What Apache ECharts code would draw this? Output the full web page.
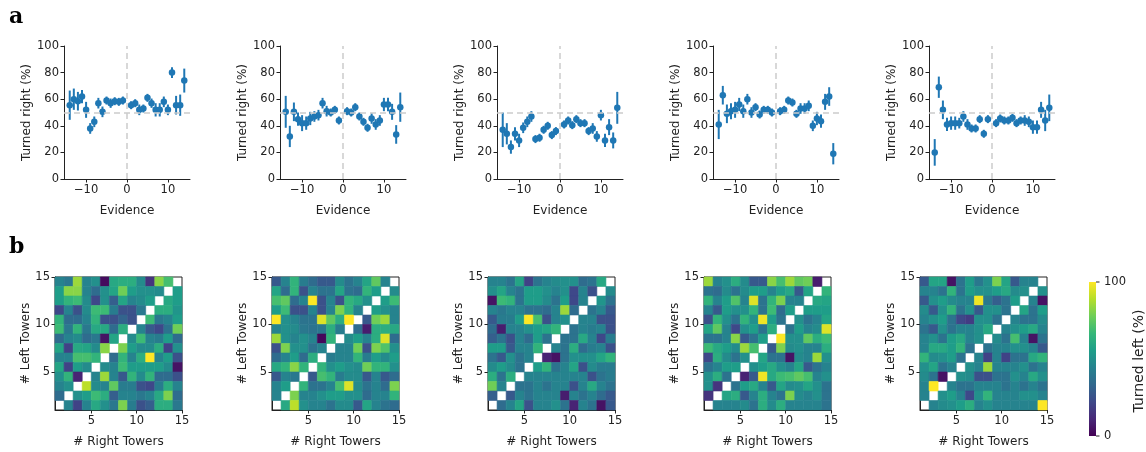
<!DOCTYPE html>
<html>
<head>
    <meta charset="utf-8">
    <title>Evidence / towers</title>
    <script src="https://cdn.jsdelivr.net/npm/echarts@6/dist/echarts.min.js"></script>
</head>
<body style="margin:0;background:#fff">
    <div id="main" style="width: 1146px;height:452px;"></div>
    <script type="text/javascript">
        // evidence values (right - left towers), 0 is not present
        var evidence = [-14,-13,-12,-11,-10,-9,-8,-7,-6,-5,-4,-3,-2,-1,1,2,3,4,5,6,7,8,9,10,11,12,13,14];

        // turned right (%) per panel, and error bar half-lengths
        var right1 = [55.5,60,58.5,62,52,38,43,57,50.5,59,57,58.5,58,59,55.5,57,52,53,61,57,52,52,58,52,80,55.5,55.5,74];
        var err1   = [11,8,7,5,6,4,4,4,4,3,3.5,3,3,3,3,3,4,3,3,3.5,5,5,4,4,4,7,8,9];
        var right2 = [50.5,32,50.5,45,42,42,45.5,47,48,57,51,50,52,44,51,50,54,47,43,38.5,45.5,41,44,56,56,50.5,33.5,54];
        var err2   = [12,8,7,5,6,5,5,4,4,4,4,3,3,3,3,3,3,3,3,3,4,4,4,5,5,6,7,11];
        var right3 = [37,34,24,34,29,38.5,43,47,30,31,37,40,33,36,41,44,40.5,45,42,42,36,38,32,48,29,39,29,53.5];
        var err3   = [13,8,5,5,5,4,4,4,3,3,3,3,3,3,3,3,3,3,3,3,3,4,4,4,5,6,6,12];
        var right4 = [41,63,49,51,52,56,51,60,50,54,48.5,52,52,50,51,52,59,57.5,49,53,53,55,40,45.5,43.5,58,62,19];
        var err4   = [11,7,7,6,6,5,5,4,4,3,3,3,3,3,3,3,3,3,3,4,4,4,4,5,5,6,7,8];
        var right5 = [20,69,52,41,42,42,42,47,41,38,38,45,34,45,42,45.5,44,44,46,42,44,44,43,39,39,52,44,53.5];
        var err5   = [10,8,7,5,5,5,4,4,4,3,3,3,3,3,3,3,3,3,3,3,3,4,4,5,5,6,8,10];

        var xTicks = [-10,0,10];
        var towerTicks = [5,10,15];

        // turned left (%) grids, rows listed from the top (15 left towers) down,
        // columns from 1 right tower to 14; null on the diagonal
        var heat1 = [
            [45,40,85,45,50,3,60,62,62,48,15,82,70,null],
            [55,82,82,45,35,50,58,78,55,50,50,48,null,55],
            [55,65,68,48,22,50,30,58,45,48,55,null,60,55],
            [22,45,25,48,68,68,42,25,25,40,null,62,62,52],
            [65,35,35,45,65,25,25,32,25,null,68,40,45,55],
            [68,40,65,40,60,60,35,62,null,45,28,22,38,78],
            [35,45,48,35,40,5,58,null,48,68,45,42,55,35],
            [58,20,60,58,48,82,null,80,55,48,48,62,20,50],
            [45,45,70,70,65,null,35,65,45,62,100,45,55,25],
            [58,20,55,48,null,48,45,68,55,55,55,55,48,5],
            [50,65,10,null,45,85,45,28,65,48,65,35,35,25],
            [45,50,null,90,48,45,75,42,42,25,22,42,62,45],
            [35,null,50,55,68,62,30,45,45,40,45,60,80,35],
            [null,45,20,45,60,50,40,80,42,25,30,62,62,40]
        ];
        var heat2 = [
            [28,45,65,42,35,28,28,48,38,45,58,75,45,null],
            [58,35,65,25,45,38,38,58,38,35,65,55,null,48],
            [70,75,35,45,100,25,45,25,65,60,50,null,55,68],
            [55,68,25,25,45,25,45,80,65,45,null,55,50,45],
            [100,50,45,38,38,95,75,62,100,null,28,78,85,45],
            [45,50,48,40,38,40,62,42,null,35,8,62,62,60],
            [85,50,45,50,45,2,65,null,48,55,45,62,95,35],
            [25,80,50,50,38,45,null,45,45,78,25,80,72,50],
            [35,45,55,35,62,null,42,45,45,65,42,55,48,55],
            [60,65,82,65,null,65,50,55,50,48,78,65,65,50],
            [28,45,40,null,28,70,65,42,48,48,28,45,28,35],
            [45,55,null,65,38,38,45,70,95,48,38,45,35,80],
            [45,null,80,45,45,50,55,55,50,50,35,45,45,65],
            [null,60,90,50,45,45,38,48,48,28,58,45,38,35]
        ];
        var heat3 = [
            [45,45,38,58,20,38,45,48,50,50,35,38,60,null],
            [50,58,45,38,55,55,50,45,50,22,45,25,null,48],
            [5,68,65,38,55,55,48,38,55,22,45,null,52,38],
            [45,40,45,45,38,38,35,45,85,35,null,38,45,28],
            [28,42,42,55,100,70,25,45,50,null,45,45,25,25],
            [35,8,45,45,50,55,58,65,null,38,45,42,45,25],
            [30,38,25,45,35,55,38,null,38,38,60,45,22,42],
            [55,55,28,45,45,65,null,45,38,62,35,42,45,25],
            [38,28,50,38,45,null,10,5,38,50,50,50,58,65],
            [48,55,48,38,null,55,65,38,45,58,25,48,42,42],
            [62,38,62,null,45,45,45,45,45,45,45,25,38,42],
            [78,45,null,38,38,45,38,45,45,25,45,60,45,38],
            [30,null,28,45,38,45,45,45,8,45,38,45,35,28],
            [null,35,45,58,25,45,45,50,38,10,45,38,5,28]
        ];
        var heat4 = [
            [85,45,50,62,48,28,28,82,70,85,75,78,8,null],
            [38,35,48,38,48,55,55,45,55,60,28,58,null,65],
            [65,45,55,72,45,95,38,65,80,45,45,null,60,58],
            [45,28,55,50,50,65,38,68,35,55,null,55,55,55],
            [25,65,50,38,65,50,98,55,38,null,50,38,45,58],
            [58,75,45,22,50,55,38,62,null,38,55,45,48,95],
            [38,38,45,82,28,38,55,null,100,50,50,75,62,68],
            [68,60,55,48,85,70,null,28,80,48,50,45,45,62],
            [22,62,48,38,50,null,58,38,38,5,48,45,85,50],
            [38,45,55,55,null,50,55,60,50,45,58,28,38,45],
            [50,62,38,null,10,28,98,60,68,70,75,70,45,50],
            [50,15,null,38,55,60,45,28,58,48,50,58,50,38],
            [15,null,58,62,28,45,62,45,38,80,48,45,50,38],
            [null,45,45,45,48,38,62,48,62,45,45,45,45,38]
        ];
        var heat5 = [
            [28,58,58,5,38,55,40,50,80,58,28,45,45,null],
            [45,45,38,65,38,55,50,50,55,60,48,50,null,50],
            [28,50,55,48,45,45,98,40,30,38,55,null,45,5],
            [48,28,50,65,38,50,28,50,50,38,null,58,38,55],
            [45,50,55,38,22,18,50,50,38,null,45,38,38,48],
            [38,28,50,38,45,45,50,60,null,45,50,55,60,45],
            [45,50,38,55,60,45,50,null,48,38,70,45,5,38],
            [45,60,60,55,65,38,null,38,45,45,50,50,45,28],
            [65,48,50,55,38,null,45,20,45,20,38,38,60,65],
            [50,58,38,45,null,50,45,85,45,45,45,50,38,45],
            [48,38,5,null,50,48,25,25,38,38,50,45,60,50],
            [45,100,null,45,38,38,45,45,45,38,45,38,45,38],
            [45,null,50,55,45,22,50,65,45,45,45,50,50,45],
            [null,45,48,50,55,62,45,50,45,45,45,45,45,100]
        ];

        var viridis = ['#440154','#482878','#3e4989','#31688e','#26828e','#1f9e89','#35b779','#6ece58','#b5de2b','#fde725'];

        var rights = [right1, right2, right3, right4, right5];
        var errs = [err1, err2, err3, err4, err5];
        var heats = [heat1, heat2, heat3, heat4, heat5];

        var topLeft = [64, 280, 497, 713, 929];
        var heatLeft = [55, 272, 488, 704, 920];
        var ink = '#222';
        var font = 'DejaVu Sans';
        var blue = '#1f77b4';

        function minus(v) { return String(v).replace('-', '\u2212'); }

        function axisStyle(extra) {
            var a = {
                axisLine: { show: true, onZero: false, lineStyle: { color: ink, width: 1 } },
                axisTick: { show: true, length: 3.5, lineStyle: { color: ink } },
                axisLabel: { color: ink, fontSize: 11.5, fontFamily: font, margin: 5 },
                splitLine: { show: false },
                nameTextStyle: { color: ink, fontSize: 12, fontFamily: font },
                nameLocation: 'middle'
            };
            for (var k in extra) a[k] = extra[k];
            return a;
        }

        function renderErr(params, api) {
            var x = api.value(0), y = api.value(1), e = api.value(2);
            var a = api.coord([x, y - e]);
            var b = api.coord([x, y + e]);
            return { type: 'line', shape: { x1: a[0], y1: a[1], x2: b[0], y2: b[1] },
                     style: { stroke: blue, lineWidth: 2 } };
        }

        function renderCell(params, api) {
            var p0 = api.coord([api.value(0), api.value(1) + 1]);
            var p1 = api.coord([api.value(0) + 1, api.value(1)]);
            var col = api.visual('color');
            return { type: 'rect',
                     shape: { x: p0[0], y: p0[1], width: p1[0] - p0[0], height: p1[1] - p0[1] },
                     style: { fill: col, stroke: col, lineWidth: 0.6 } };
        }

        var grids = [], xAxes = [], yAxes = [], series = [], heatIdx = [];

        for (var i = 0; i < 5; i++) {
            grids.push({ left: topLeft[i], top: 46, width: 126, height: 133 });
            xAxes.push(axisStyle({
                gridIndex: i, type: 'value', min: -15.4, max: 15.4,
                name: 'Evidence', nameGap: 26,
                axisTick: { show: true, length: 3.5, lineStyle: { color: ink }, customValues: xTicks },
                axisLabel: { color: ink, fontSize: 11.5, fontFamily: font, margin: 5, customValues: xTicks, formatter: minus }
            }));
            yAxes.push(axisStyle({
                gridIndex: i, type: 'value', min: 0, max: 100, interval: 20,
                name: 'Turned right (%)', nameGap: 28, nameRotate: 90
            }));
            var pts = [], bars = [];
            for (var j = 0; j < evidence.length; j++) {
                pts.push([evidence[j], rights[i][j]]);
                bars.push([evidence[j], rights[i][j], errs[i][j]]);
            }
            series.push({
                type: 'custom', xAxisIndex: i, yAxisIndex: i, data: bars,
                renderItem: renderErr, silent: true, z: 2
            });
            series.push({
                type: 'scatter', xAxisIndex: i, yAxisIndex: i, data: pts,
                symbolSize: 6.5, itemStyle: { color: blue, opacity: 1 }, z: 3,
                markLine: {
                    silent: true, symbol: 'none', label: { show: false },
                    lineStyle: { color: '#cccccc', type: [6, 4], width: 1.5 },
                    data: [{ xAxis: 0 }, { yAxis: 50 }]
                }
            });
        }

        for (var i = 0; i < 5; i++) {
            var g = 5 + i;
            grids.push({ left: heatLeft[i], top: 277, width: 127, height: 133,
                         show: true, borderColor: ink, borderWidth: 1, backgroundColor: 'transparent' });
            xAxes.push(axisStyle({
                gridIndex: g, type: 'value', min: 1, max: 15,
                name: '# Right Towers', nameGap: 26,
                axisTick: { show: true, length: 3.5, lineStyle: { color: ink }, customValues: towerTicks },
                axisLabel: { color: ink, fontSize: 11.5, fontFamily: font, margin: 5, customValues: towerTicks }
            }));
            yAxes.push(axisStyle({
                gridIndex: g, type: 'value', min: 1, max: 15,
                name: '# Left Towers', nameGap: 19, nameRotate: 90,
                axisTick: { show: true, length: 3.5, lineStyle: { color: ink }, customValues: towerTicks },
                axisLabel: { color: ink, fontSize: 11.5, fontFamily: font, margin: 5, customValues: towerTicks }
            }));
            var cells = [];
            for (var r = 0; r < 14; r++) {
                for (var c = 0; c < 14; c++) {
                    var v = heats[i][r][c];
                    if (v !== null) cells.push([c + 1, 14 - r, v]);
                }
            }
            heatIdx.push(series.length);
            series.push({
                type: 'custom', xAxisIndex: g, yAxisIndex: g, data: cells,
                renderItem: renderCell, silent: true,
                encode: { x: 0, y: 1 }
            });
        }

        var stops = viridis.map(function (c, k) {
            return { offset: 1 - k / (viridis.length - 1), color: c };
        });

        var option = {
            animation: false,
            backgroundColor: '#fff',
            grid: grids,
            xAxis: xAxes,
            yAxis: yAxes,
            visualMap: {
                show: false, type: 'continuous', min: 0, max: 100,
                dimension: 2, seriesIndex: heatIdx,
                inRange: { color: viridis }
            },
            series: series,
            graphic: [
                { type: 'text', left: 9, top: 6, style: { text: 'a', font: 'bold 22px "DejaVu Serif"', fill: '#000' } },
                { type: 'text', left: 9, top: 236, style: { text: 'b', font: 'bold 22px "DejaVu Serif"', fill: '#000' } },
                // colorbar
                { type: 'rect', shape: { x: 1089, y: 282, width: 7, height: 154 },
                  style: { fill: { type: 'linear', x: 0, y: 0, x2: 0, y2: 1, colorStops: stops } } },
                { type: 'line', shape: { x1: 1096, y1: 282, x2: 1099.5, y2: 282 }, style: { stroke: ink, lineWidth: 1 } },
                { type: 'line', shape: { x1: 1096, y1: 436, x2: 1099.5, y2: 436 }, style: { stroke: ink, lineWidth: 1 } },
                { type: 'text', x: 1104, y: 282, style: { text: '100', font: '11.5px "DejaVu Sans"', fill: ink, textVerticalAlign: 'middle' } },
                { type: 'text', x: 1104, y: 436, style: { text: '0', font: '11.5px "DejaVu Sans"', fill: ink, textVerticalAlign: 'middle' } },
                { type: 'text', x: 1139, y: 361, rotation: Math.PI / 2,
                  style: { text: 'Turned left (%)', font: '14px "DejaVu Sans"', fill: ink, textAlign: 'center', textVerticalAlign: 'middle' } }
            ]
        };

        var myChart = echarts.init(document.getElementById('main'));
        myChart.setOption(option);
    </script>
</body>
</html>
